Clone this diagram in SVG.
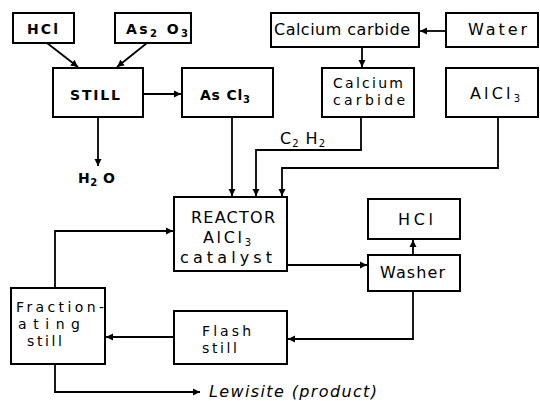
<svg xmlns="http://www.w3.org/2000/svg" width="540" height="401" viewBox="0 0 540 401">
<defs>
<marker id="ah" viewBox="0 0 10 10" refX="10" refY="5" markerWidth="4" markerHeight="4" orient="auto" markerUnits="strokeWidth">
<path d="M0,0 L10,5 L0,10 z" fill="#000"/>
</marker>
<style>
.box{fill:#fff;stroke:#000;stroke-width:2}
.t{font-family:"DejaVu Sans","Liberation Sans",sans-serif;font-size:16px;fill:#000;text-anchor:start}
.m{font-size:14px}
.b{font-weight:bold;font-size:14px}
.c{fill:none;stroke:#000;stroke-width:1.8}
.sub{font-size:10px}
</style>
</defs>
<rect width="540" height="401" fill="#fff"/>
<g id="connectors">
<path class="c" d="M47,43 L78,67" marker-end="url(#ah)"/>
<path class="c" d="M147,43 L117,67" marker-end="url(#ah)"/>
<path class="c" d="M143,94 L181,94" marker-end="url(#ah)"/>
<path class="c" d="M98,117 L98,166" marker-end="url(#ah)"/>
<path class="c" d="M446,31 L420,31" marker-end="url(#ah)"/>
<path class="c" d="M362,47 L362,67" marker-end="url(#ah)"/>
<path class="c" d="M232,117 L232,196" marker-end="url(#ah)"/>
<path class="c" d="M361,117 L361,150 L256,150 L256,196" marker-end="url(#ah)"/>
<path class="c" d="M498,117 L498,168 L282,168 L282,196" marker-end="url(#ah)"/>
<path class="c" d="M287,265 L367,265" marker-end="url(#ah)"/>
<path class="c" d="M413,255 L413,240" marker-end="url(#ah)"/>
<path class="c" d="M413,291 L413,339 L288,339" marker-end="url(#ah)"/>
<path class="c" d="M174,337 L106,337" marker-end="url(#ah)"/>
<path class="c" d="M55,288 L55,231 L173,231" marker-end="url(#ah)"/>
<path class="c" d="M55,364 L55,392 L200,392" marker-end="url(#ah)"/>
</g>
<g id="hcl1"><rect class="box" x="13" y="13" width="61" height="30"/><text class="t b" x="27" y="34" textLength="31">HCl</text></g>
<g id="as2o3"><rect class="box" x="115" y="13" width="76" height="30"/><text class="t b" x="126" y="34" textLength="62">As<tspan class="sub" dy="3">2</tspan><tspan dy="-3"> O</tspan><tspan class="sub" dy="3">3</tspan></text></g>
<g id="still"><rect class="box" x="53" y="68" width="90" height="49"/><text class="t b" x="70" y="100" textLength="50">STILL</text></g>
<g id="ascl3"><rect class="box" x="182" y="68" width="91" height="49"/><text class="t b" x="200" y="100" textLength="50">As Cl<tspan class="sub" dy="3">3</tspan></text></g>
<g id="h2o"><text class="t b" x="78" y="183" textLength="37">H<tspan class="sub" dy="3">2</tspan><tspan dy="-3"> O</tspan></text></g>
<g id="calcium1"><rect class="box" x="271" y="13" width="148" height="34"/><text class="t" x="274" y="35" textLength="136">Calcium carbide</text></g>
<g id="water"><rect class="box" x="446" y="13" width="92" height="34"/><text class="t" x="468" y="35" textLength="59">Water</text></g>
<g id="calcium2"><rect class="box" x="322" y="68" width="92" height="49"/><text class="t m" x="333" y="88" textLength="70">Calcium</text><text class="t m" x="333" y="105" textLength="72">carbide</text></g>
<g id="alcl3"><rect class="box" x="446" y="68" width="92" height="49"/><text class="t" x="470" y="99" textLength="50">AlCl<tspan class="sub" dy="3">3</tspan></text></g>
<g id="c2h2"><text class="t" x="280" y="144" textLength="45">C<tspan class="sub" dy="3">2</tspan><tspan dy="-3"> H</tspan><tspan class="sub" dy="3">2</tspan></text></g>
<g id="reactor"><rect class="box" x="174" y="197" width="113" height="74"/><text class="t" x="191" y="223" textLength="84">REACTOR</text><text class="t" x="203" y="243" textLength="48">AlCl<tspan class="sub" dy="3">3</tspan></text><text class="t" x="180" y="263" textLength="92">catalyst</text></g>
<g id="hcl2"><rect class="box" x="368" y="199" width="92" height="40"/><text class="t" x="398" y="225" textLength="35">HCl</text></g>
<g id="washer"><rect class="box" x="368" y="255" width="92" height="36"/><text class="t" x="380" y="278" textLength="65">Washer</text></g>
<g id="flash"><rect class="box" x="174" y="311" width="113" height="53"/><text class="t m" x="202" y="336" textLength="49">Flash</text><text class="t m" x="202" y="353" textLength="35">still</text></g>
<g id="fract"><rect class="box" x="11" y="288" width="94" height="76"/><text class="t m" x="16" y="312" textLength="88">Fraction-</text><text class="t m" x="18" y="329" textLength="62">ating</text><text class="t m" x="27" y="346" textLength="35">still</text></g>
<g id="lewisite"><text class="t" x="209" y="397" textLength="168" style="font-style:italic">Lewisite (product)</text></g>
</svg>
